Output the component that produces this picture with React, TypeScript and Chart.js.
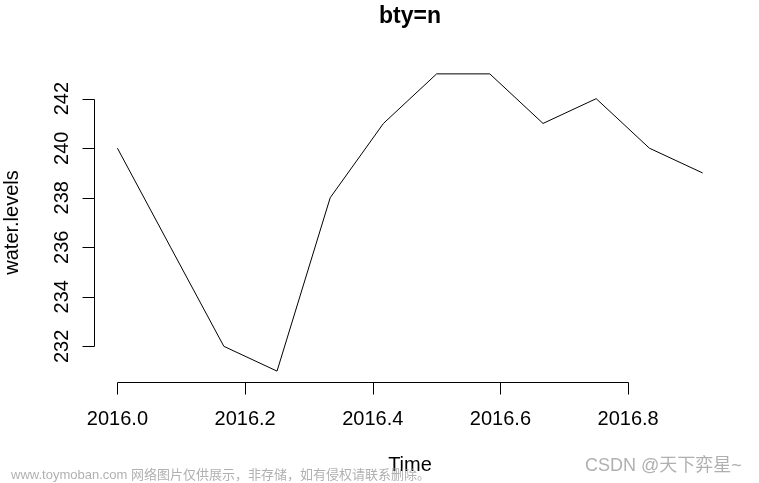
import React, { useEffect, useRef } from "react";
import { Chart, registerables } from "chart.js";

Chart.register(...registerables);

const timeValues = [2016.0, 2016.0833, 2016.1667, 2016.25, 2016.3333, 2016.4167, 2016.5, 2016.5833, 2016.6667, 2016.75, 2016.8333, 2016.9167];
const waterLevels = [240, 236, 232, 231, 238, 241, 243, 243, 241, 242, 240, 239];
const xTicks = [2016.0, 2016.2, 2016.4, 2016.6, 2016.8];
const xTickLabels = ["2016.0", "2016.2", "2016.4", "2016.6", "2016.8"];
const yTicks = [232, 234, 236, 238, 240, 242];
const yTickLabels = ["232", "234", "236", "238", "240", "242"];
const titleText = "bty=n";
const xLabel = "Time";
const yLabel = "water.levels";
const watermarkLeft = "www.toymoban.com 网络图片仅供展示，非存储，如有侵权请联系删除。";
const watermarkRight = "CSDN @天下弈星~";

const FONT = '"Liberation Sans", Arial, sans-serif';

const rAxesPlugin = {
  id: "rAxes",
  afterDraw(chart: any) {
    const ctx = chart.ctx as CanvasRenderingContext2D;
    const xs = chart.scales.x;
    const ys = chart.scales.y;
    const area = chart.chartArea;
    ctx.save();
    ctx.strokeStyle = "#000";
    ctx.fillStyle = "#000";
    ctx.lineWidth = 1;

    // x axis
    const axY = Math.round(area.bottom) - 0.5;
    const x0 = xs.getPixelForValue(xTicks[0]);
    const x1 = xs.getPixelForValue(xTicks[xTicks.length - 1]);
    ctx.beginPath();
    ctx.moveTo(Math.round(x0) + 0.5, axY);
    ctx.lineTo(Math.round(x1) + 0.5, axY);
    xTicks.forEach((t) => {
      const px = Math.round(xs.getPixelForValue(t)) + 0.5;
      ctx.moveTo(px, axY);
      ctx.lineTo(px, axY + 12);
    });
    ctx.stroke();

    ctx.font = `20px ${FONT}`;
    ctx.textAlign = "center";
    ctx.textBaseline = "alphabetic";
    xTicks.forEach((t, i) => {
      ctx.fillText(xTickLabels[i], xs.getPixelForValue(t), 425);
    });

    // y axis
    const axX = Math.round(area.left) + 0.5;
    const y0 = ys.getPixelForValue(yTicks[0]);
    const y1 = ys.getPixelForValue(yTicks[yTicks.length - 1]);
    ctx.beginPath();
    ctx.moveTo(axX, Math.round(y0) + 0.5);
    ctx.lineTo(axX, Math.round(y1) + 0.5);
    yTicks.forEach((t) => {
      const py = Math.round(ys.getPixelForValue(t)) + 0.5;
      ctx.moveTo(axX, py);
      ctx.lineTo(axX - 12, py);
    });
    ctx.stroke();

    yTicks.forEach((t, i) => {
      const py = ys.getPixelForValue(t);
      ctx.save();
      ctx.translate(68, py);
      ctx.rotate(-Math.PI / 2);
      ctx.fillText(yTickLabels[i], 0, 0);
      ctx.restore();
    });

    const cx = (area.left + area.right) / 2;
    const cy = (area.top + area.bottom) / 2;

    // axis labels
    ctx.fillText(xLabel, cx, 471);
    ctx.save();
    ctx.translate(18, cy);
    ctx.rotate(-Math.PI / 2);
    ctx.fillText(yLabel, 0, 0);
    ctx.restore();

    // title
    ctx.font = `bold 23px ${FONT}`;
    ctx.fillText(titleText, cx, 23);

    // watermarks
    ctx.fillStyle = "rgba(150,150,150,0.75)";
    ctx.textAlign = "left";
    ctx.textBaseline = "middle";
    ctx.font = `13px ${FONT}, "Noto Sans CJK SC"`;
    ctx.fillText(watermarkLeft, 11, 475);
    ctx.font = `18px ${FONT}, "Noto Sans CJK SC"`;
    ctx.fillText(watermarkRight, 585, 466);
    ctx.restore();
  },
};

export default function App() {
  const canvasRef = useRef<HTMLCanvasElement | null>(null);

  useEffect(() => {
    if (!canvasRef.current) return;
    const chart = new Chart(canvasRef.current, {
      type: "line",
      data: {
        datasets: [
          {
            data: timeValues.map((t, i) => ({ x: t, y: waterLevels[i] })),
            borderColor: "#000",
            borderWidth: 1,
            pointRadius: 0,
            tension: 0,
            fill: false,
          },
        ],
      },
      options: {
        animation: false,
        responsive: false,
        devicePixelRatio: 1,
        layout: { padding: { left: 94, right: 33, top: 62, bottom: 100 } },
        plugins: {
          legend: { display: false },
          tooltip: { enabled: false },
          title: { display: false },
        },
        scales: {
          x: { type: "linear", min: 2015.9633, max: 2016.9533, display: false },
          y: { type: "linear", min: 230.52, max: 243.48, display: false },
        },
      },
      plugins: [rAxesPlugin],
    });
    return () => chart.destroy();
  }, []);

  return (
    <div style={{ position: "absolute", left: 0, top: 0, width: 759, height: 483, background: "#fff" }}>
      <canvas ref={canvasRef} width={759} height={483} />
    </div>
  );
}
